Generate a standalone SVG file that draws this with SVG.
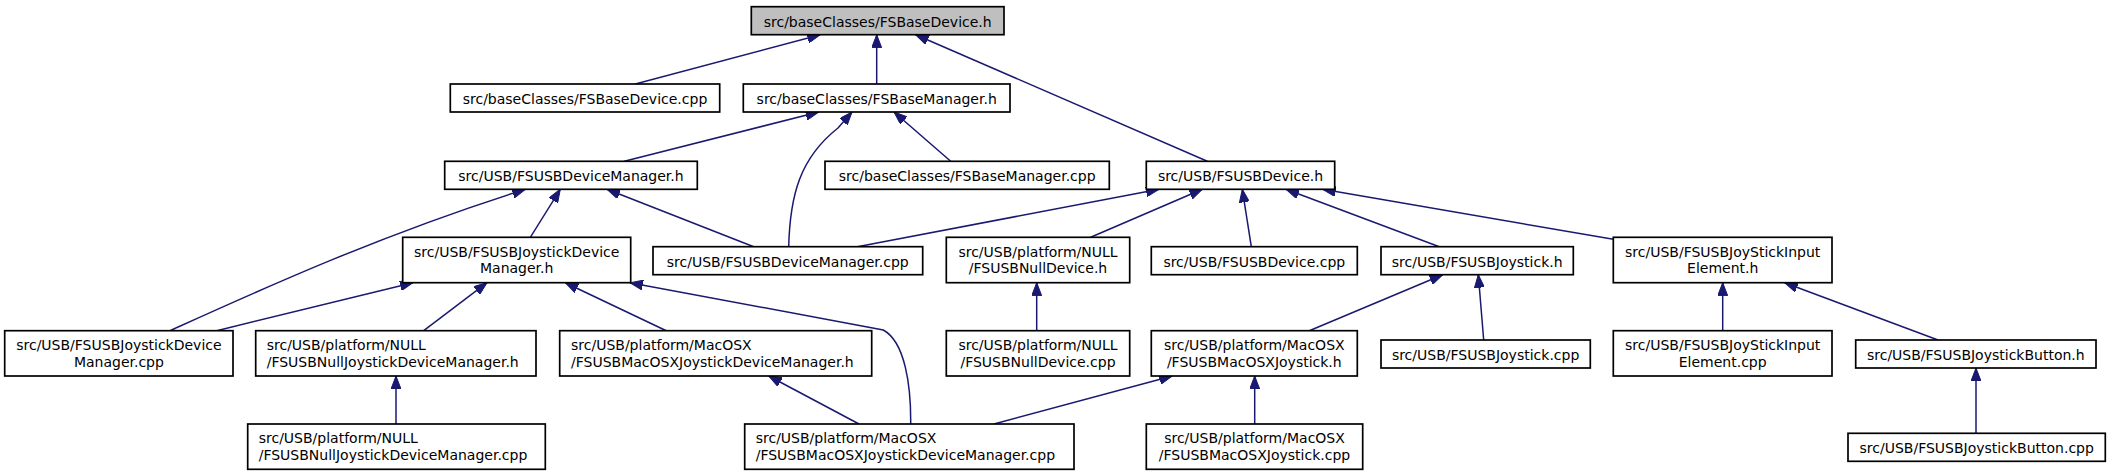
<svg xmlns="http://www.w3.org/2000/svg" width="2109" height="475" viewBox="0 0 2109 475">
<style>
  .box { fill: #ffffff; stroke: #000000; stroke-width: 1.7; }
  .root { fill: #bfbfbf; stroke: #000000; stroke-width: 1.7; }
  text { font-family: "DejaVu Sans", "Liberation Sans", sans-serif; font-size: 14px; fill: #000000; }
  .c { text-anchor: middle; }
  .l { text-anchor: start; }
  .e { fill: none; stroke: #191970; stroke-width: 1.5; marker-end: url(#arr); }
</style>
<defs>
  <marker id="arr" viewBox="0 0 13 10" refX="13" refY="5" markerWidth="13" markerHeight="10" markerUnits="userSpaceOnUse" orient="auto">
    <path d="M0,0 L13,5 L0,10 z" fill="#191970" stroke="#191970" stroke-width="1"/>
  </marker>
</defs>
<rect width="2109" height="475" fill="#ffffff"/>
<g id="connectors">
  <path class="e" d="M635.3,84 L820.3,34.7"/>
  <path class="e" d="M876.7,84 L876.7,34.7"/>
  <path class="e" d="M1207.3,161.3 L915.7,34.7"/>
  <path class="e" d="M624.3,161.3 L818.7,112"/>
  <path class="e" d="M788.7,246.7 C790,195 800,158 838,128 L852,112"/>
  <path class="e" d="M170,330.7 C260,290 380,235 525.3,189.3"/>
  <path class="e" d="M530.3,237.3 L560.3,189.3"/>
  <path class="e" d="M753.7,246.7 L607,189.3"/>
  <path class="e" d="M950.7,161.3 L894,112"/>
  <path class="e" d="M857.3,246.7 L1159,189.3"/>
  <path class="e" d="M1090.7,237.3 L1202.3,189.3"/>
  <path class="e" d="M1251.3,246.7 L1242.3,189.3"/>
  <path class="e" d="M1439.3,246.7 L1286,189.3"/>
  <path class="e" d="M1613.3,239.3 L1322.7,189.3"/>
  <path class="e" d="M216.7,330.7 L413,282.7"/>
  <path class="e" d="M423.7,330.7 L487,282.7"/>
  <path class="e" d="M666.3,330.7 L565.3,282.7"/>
  <path class="e" d="M910.7,424 C911,385 905,342 883.3,330 L630,282.7"/>
  <path class="e" d="M396,424 L396,376"/>
  <path class="e" d="M859,424 L768.7,376"/>
  <path class="e" d="M1036.7,330.7 L1036.7,282.7"/>
  <path class="e" d="M994,424 L1172.3,376"/>
  <path class="e" d="M1254.7,424 L1254.7,376"/>
  <path class="e" d="M1309.3,330.7 L1442.7,274.7"/>
  <path class="e" d="M1483.7,340 L1478.3,274.7"/>
  <path class="e" d="M1722.7,330.7 L1722.7,282.7"/>
  <path class="e" d="M1938,340 L1784.7,282.7"/>
  <path class="e" d="M1976,433.3 L1976,368"/>
</g>
<g id="n1"><rect class="root" x="751.3" y="6.7" width="252.7" height="28"/><text class="c" x="877.7" y="26.7">src/baseClasses/FSBaseDevice.h</text></g>
<g id="n2"><rect class="box" x="450.3" y="84" width="269.4" height="28"/><text class="c" x="585" y="104">src/baseClasses/FSBaseDevice.cpp</text></g>
<g id="n3"><rect class="box" x="743.3" y="84" width="266.7" height="28"/><text class="c" x="876.7" y="104">src/baseClasses/FSBaseManager.h</text></g>
<g id="n4"><rect class="box" x="444.7" y="161.3" width="252.6" height="28"/><text class="c" x="571" y="181.3">src/USB/FSUSBDeviceManager.h</text></g>
<g id="n5"><rect class="box" x="825" y="161.3" width="284.3" height="28"/><text class="c" x="967.2" y="181.3">src/baseClasses/FSBaseManager.cpp</text></g>
<g id="n6"><rect class="box" x="1146.3" y="161.3" width="188.4" height="28"/><text class="c" x="1240.5" y="181.3">src/USB/FSUSBDevice.h</text></g>
<g id="n7"><rect class="box" x="402.7" y="237.3" width="228" height="45.4"/><text class="c" x="516.7" y="256.7">src/USB/FSUSBJoystickDevice</text><text class="c" x="516.7" y="273.3">Manager.h</text></g>
<g id="n8"><rect class="box" x="653" y="246.7" width="269.7" height="28"/><text class="c" x="787.8" y="266.7">src/USB/FSUSBDeviceManager.cpp</text></g>
<g id="n9"><rect class="box" x="946.3" y="237.3" width="183.4" height="45.4"/><text class="c" x="1038" y="256.7">src/USB/platform/NULL</text><text class="c" x="1038" y="273.3">/FSUSBNullDevice.h</text></g>
<g id="n10"><rect class="box" x="1151.3" y="246.7" width="206" height="28"/><text class="c" x="1254.3" y="266.7">src/USB/FSUSBDevice.cpp</text></g>
<g id="n11"><rect class="box" x="1381" y="246.7" width="192.3" height="28"/><text class="c" x="1477.2" y="266.7">src/USB/FSUSBJoystick.h</text></g>
<g id="n12"><rect class="box" x="1613.3" y="237.3" width="218.7" height="45.4"/><text class="c" x="1722.7" y="256.7">src/USB/FSUSBJoyStickInput</text><text class="c" x="1722.7" y="273.3">Element.h</text></g>
<g id="n13"><rect class="box" x="4.7" y="330.7" width="228.3" height="45.3"/><text class="c" x="118.9" y="350.1">src/USB/FSUSBJoystickDevice</text><text class="c" x="118.9" y="366.7">Manager.cpp</text></g>
<g id="n14"><rect class="box" x="255.7" y="330.7" width="280.3" height="45.3"/><text class="l" x="266.7" y="350.1">src/USB/platform/NULL</text><text class="l" x="266.7" y="366.7">/FSUSBNullJoystickDeviceManager.h</text></g>
<g id="n15"><rect class="box" x="559.7" y="330.7" width="312" height="45.3"/><text class="l" x="571" y="350.1">src/USB/platform/MacOSX</text><text class="l" x="571" y="366.7">/FSUSBMacOSXJoystickDeviceManager.h</text></g>
<g id="n16"><rect class="box" x="946.3" y="330.7" width="183.4" height="45.3"/><text class="c" x="1038" y="350.1">src/USB/platform/NULL</text><text class="c" x="1038" y="366.7">/FSUSBNullDevice.cpp</text></g>
<g id="n17"><rect class="box" x="1151.3" y="330.7" width="206" height="45.3"/><text class="c" x="1254.3" y="350.1">src/USB/platform/MacOSX</text><text class="c" x="1254.3" y="366.7">/FSUSBMacOSXJoystick.h</text></g>
<g id="n18"><rect class="box" x="1381" y="340" width="209.3" height="28"/><text class="c" x="1485.6" y="360">src/USB/FSUSBJoystick.cpp</text></g>
<g id="n19"><rect class="box" x="1613.3" y="330.7" width="218.7" height="45.3"/><text class="c" x="1722.7" y="350.1">src/USB/FSUSBJoyStickInput</text><text class="c" x="1722.7" y="366.7">Element.cpp</text></g>
<g id="n20"><rect class="box" x="1855.7" y="340" width="240.3" height="28"/><text class="c" x="1975.8" y="360">src/USB/FSUSBJoystickButton.h</text></g>
<g id="n21"><rect class="box" x="247.7" y="424" width="297.6" height="45.3"/><text class="l" x="258.7" y="443.4">src/USB/platform/NULL</text><text class="l" x="258.7" y="460">/FSUSBNullJoystickDeviceManager.cpp</text></g>
<g id="n22"><rect class="box" x="744.7" y="424" width="329.3" height="45.3"/><text class="l" x="755.7" y="443.4">src/USB/platform/MacOSX</text><text class="l" x="755.7" y="460">/FSUSBMacOSXJoystickDeviceManager.cpp</text></g>
<g id="n23"><rect class="box" x="1146.3" y="424" width="216.4" height="45.3"/><text class="c" x="1254.5" y="443.4">src/USB/platform/MacOSX</text><text class="c" x="1254.5" y="460">/FSUSBMacOSXJoystick.cpp</text></g>
<g id="n24"><rect class="box" x="1848" y="433.3" width="257.3" height="28"/><text class="c" x="1976.7" y="453.3">src/USB/FSUSBJoystickButton.cpp</text></g>
</svg>
